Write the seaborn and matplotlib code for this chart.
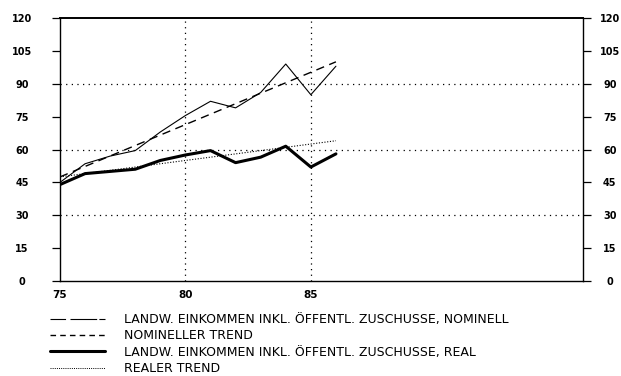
import matplotlib
matplotlib.use("Agg")
import matplotlib.pyplot as plt
import seaborn as sns
import pandas as pd
from matplotlib.lines import Line2D

# Jahre (19xx) und Einkommenswerte
years = [75, 76, 77, 78, 79, 80, 81, 82, 83, 84, 85, 86]
nominal = [45, 53.5, 57, 59.5, 68, 75.5, 82, 79, 86, 99, 85, 98]
real = [44, 49, 50, 51, 55, 57.5, 59.5, 54, 56.5, 61.5, 52, 58]

# Trendgeraden (Anfangs- und Endpunkt)
trend_years = [75, 86]
nominal_trend = [47.5, 100]
real_trend = [47.5, 64]

y_ticks = [0, 15, 30, 45, 60, 75, 90, 105, 120]
x_tick_labels = ["75", "", "", "", "", "80", "", "", "", "", "85", ""]
grid_y = [30, 60, 90]
grid_x = [80, 85]

legend_labels = [
    "LANDW. EINKOMMEN INKL. ÖFFENTL. ZUSCHUSSE, NOMINELL",
    "NOMINELLER TREND",
    "LANDW. EINKOMMEN INKL. ÖFFENTL. ZUSCHUSSE, REAL",
    "REALER TREND",
]

sns.set_style("white")
plt.rcParams["font.family"] = ["DejaVu Sans"]
plt.rcParams["text.color"] = "black"

W, H = 621, 376
fig = plt.figure(figsize=(W / 100, H / 100), dpi=100)
ax = fig.add_axes([60 / W, 1 - 281 / H, (583 - 60) / W, (281 - 18) / H])

df_nom = pd.DataFrame({"Jahr": years, "Wert": nominal})
df_real = pd.DataFrame({"Jahr": years, "Wert": real})
df_nt = pd.DataFrame({"Jahr": trend_years, "Wert": nominal_trend})
df_rt = pd.DataFrame({"Jahr": trend_years, "Wert": real_trend})

# Hilfslinien
for gy in grid_y:
    ax.axhline(gy, color="black", lw=0.9, ls=(0, (1, 3.5)), zorder=1)
for gx in grid_x:
    ax.axvline(gx, color="black", lw=0.9, ls=(0, (1, 3.5)), zorder=1)

sns.lineplot(data=df_nom, x="Jahr", y="Wert", color="black", lw=0.8, ax=ax, zorder=3)
sns.lineplot(data=df_nt, x="Jahr", y="Wert", color="black", lw=1.0, ax=ax,
             zorder=3, dashes=False, linestyle=(0, (6, 4)))
sns.lineplot(data=df_real, x="Jahr", y="Wert", color="black", lw=2.2, ax=ax, zorder=3)
sns.lineplot(data=df_rt, x="Jahr", y="Wert", color="black", lw=0.8, ax=ax,
             zorder=3, dashes=False, linestyle=(0, (1, 1.5)))

ax.set_xlim(75, 95.85)
ax.set_ylim(0, 120)
ax.set_xlabel("")
ax.set_ylabel("")

for side in ["top", "bottom", "left", "right"]:
    ax.spines[side].set_visible(True)
    ax.spines[side].set_color("black")
    ax.spines[side].set_linewidth(1.0)
ax.spines["top"].set_linewidth(1.4)

ax.set_xticks(years)
ax.set_xticklabels(x_tick_labels)
ax.tick_params(axis="x", direction="out", length=4.5, width=0.9, pad=2,
               labelsize=7.5, colors="black")
for lab in ax.get_xticklabels():
    lab.set_fontweight("bold")

ax.set_yticks(y_ticks)
ax.set_yticklabels([str(v) for v in y_ticks])
ax.tick_params(axis="y", direction="out", length=5.8, width=0.9, pad=21.5,
               labelsize=7, colors="black", left=True, right=False)
for lab in ax.get_yticklabels():
    lab.set_fontweight("bold")
    lab.set_ha("center")

ax2 = ax.twinx()
ax2.set_ylim(0, 120)
ax2.set_yticks(y_ticks)
ax2.set_yticklabels([str(v) for v in y_ticks])
ax2.tick_params(axis="y", direction="out", length=5.8, width=0.9, pad=13.5,
                labelsize=7, colors="black")
for lab in ax2.get_yticklabels():
    lab.set_fontweight("bold")
    lab.set_ha("center")
for side in ["top", "bottom", "left", "right"]:
    ax2.spines[side].set_visible(False)

handles = [
    Line2D([], [], color="black", lw=0.8, ls=(0, (14, 4, 24, 2))),
    Line2D([], [], color="black", lw=1.0, ls=(0, (4, 3))),
    Line2D([], [], color="black", lw=2.2),
    Line2D([], [], color="black", lw=0.7, ls=(0, (1, 1.2))),
]
leg = fig.legend(handles, legend_labels, loc="upper left",
                 bbox_to_anchor=(50 / W, 1 - 313 / H), frameon=False,
                 fontsize=9, handlelength=4.4, handletextpad=1.5,
                 labelspacing=0.27, borderaxespad=0, borderpad=0)
for t in leg.get_texts():
    t.set_color("black")

fig.savefig("out.png", dpi=100)
